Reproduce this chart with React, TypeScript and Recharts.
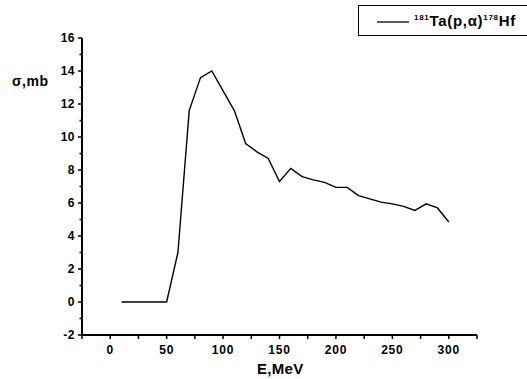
import { LineChart, Line, XAxis, YAxis } from 'recharts'

// cross section of 181Ta(p,a)178Hf vs proton energy
const energy = [10, 20, 30, 40, 50, 60, 70, 80, 90, 100, 110, 120, 130, 140, 150, 160, 170, 180, 190, 200, 210, 220, 230, 240, 250, 260, 270, 280, 290, 300]
const sigma = [0, 0, 0, 0, 0, 3.0, 11.6, 13.6, 14.0, 12.8, 11.6, 9.6, 9.1, 8.7, 7.3, 8.1, 7.6, 7.4, 7.25, 6.95, 6.95, 6.45, 6.25, 6.05, 5.95, 5.8, 5.55, 5.95, 5.7, 4.85]

const xTicks = [-25, 0, 25, 50, 75, 100, 125, 150, 175, 200, 225, 250, 275, 300, 325]
const yTicks = [-2, -1, 0, 1, 2, 3, 4, 5, 6, 7, 8, 9, 10, 11, 12, 13, 14, 15, 16]

const data = energy.map((e, i) => ({ e, s: sigma[i] }))

const font = 'Arial, "Liberation Sans", sans-serif'

const XTick = (props: any) => {
  const { x, y, payload } = props
  const v = payload.value
  const major = v % 50 === 0
  return (
    <g>
      <line x1={x} x2={x} y1={y} y2={y + 4} stroke="#000" strokeWidth={1.5} />
      {major && (
        <text x={x} y={y + 19} textAnchor="middle" fontSize={12} fontWeight="bold" fontFamily={font} letterSpacing={0.8} fill="#000">
          {v}
        </text>
      )}
    </g>
  )
}

const YTick = (props: any) => {
  const { x, y, payload } = props
  const v = payload.value
  const major = v % 2 === 0
  return (
    <g>
      <line x1={x - (major ? 4 : 2.5)} x2={x} y1={y} y2={y} stroke="#000" strokeWidth={1.5} />
      {major && (
        <text x={x - 7} y={y + 4} textAnchor="end" fontSize={12} fontWeight="bold" fontFamily={font} letterSpacing={0.5} fill="#000">
          {v}
        </text>
      )}
    </g>
  )
}

export default function App() {
  return (
    <div style={{ position: 'absolute', left: 0, top: 0, width: 527, height: 379, background: '#fff', overflow: 'hidden' }}>
      <LineChart width={527} height={379} data={data} margin={{ top: 38, right: 50, bottom: 14, left: 52 }}>
        <XAxis
          dataKey="e"
          type="number"
          domain={[-25, 325]}
          ticks={xTicks}
          interval={0}
          tickSize={0}
          tickMargin={0}
          tick={<XTick />}
          tickLine={false}
          axisLine={{ stroke: '#000', strokeWidth: 2 }}
          height={30}
        />
        <YAxis
          type="number"
          domain={[-2, 16]}
          ticks={yTicks}
          interval={0}
          tickSize={0}
          tickMargin={0}
          tick={<YTick />}
          tickLine={false}
          axisLine={{ stroke: '#000', strokeWidth: 2 }}
          width={30}
        />
        <Line type="linear" dataKey="s" stroke="#000" strokeWidth={1.4} dot={false} isAnimationActive={false} />
      </LineChart>

      {/* legend box, it runs off the right edge in the original */}
      <div style={{ position: 'absolute', left: 358, top: 5, width: 169, height: 31, border: '1.5px solid #000', borderRight: 'none', boxSizing: 'border-box', display: 'flex', alignItems: 'center', fontFamily: font, background: '#fff', whiteSpace: 'nowrap' }}>
        <svg width={52} height={10} style={{ flexShrink: 0 }}>
          <line x1={18} x2={50} y1={6} y2={6} stroke="#000" strokeWidth={1.3} />
        </svg>
        <span style={{ fontSize: 15, fontWeight: 'bold', color: '#000', marginLeft: 3, letterSpacing: 0.7 }}>
          <sup style={{ fontSize: 8 }}>181</sup>Ta(p,α)<sup style={{ fontSize: 8 }}>178</sup>Hf
        </span>
      </div>

      <div style={{ position: 'absolute', left: 12, top: 73, fontFamily: font, fontSize: 14, fontWeight: 'bold', letterSpacing: 0.5 }}>σ,mb</div>
      <div style={{ position: 'absolute', left: 257, top: 360, fontFamily: font, fontSize: 15, fontWeight: 'bold', letterSpacing: 0.3 }}>E,MeV</div>
    </div>
  )
}
